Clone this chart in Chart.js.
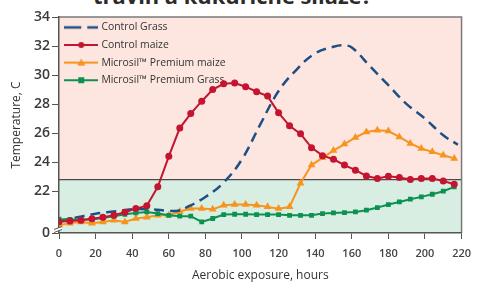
<!DOCTYPE html>
<html><head><meta charset="utf-8">
<script src="https://cdn.jsdelivr.net/npm/chart.js@4.4.1/dist/chart.umd.min.js"></script>
<style>
html,body{margin:0;padding:0;background:#fff;overflow:hidden;}
#wrap{position:relative;width:479px;height:282px;overflow:hidden;}
#title{position:absolute;left:0;top:-14px;width:465px;text-align:center;font-family:"Open Sans";font-weight:bold;font-size:18px;color:#2b2b2b;white-space:nowrap;line-height:20px;}
canvas{position:absolute;left:0;top:0;}
</style></head><body>
<div id="wrap"><div id="title">travin a kukuřičné siláže?</div><canvas id="c" width="479" height="282"></canvas></div>
<script>
// ---- data ----
const hours6 = [0,6,12,18,24,30,36,42,48,54,60,66,72,78,84,90,96,102,108,114,120,126,132,138,144,150,156,162,168,174,180,186,192,198,204,210,216];
const controlMaize = [19.9,19.95,20.0,20.1,20.2,20.35,20.55,20.8,21.0,22.3,24.4,26.35,27.35,28.2,29.0,29.4,29.45,29.2,28.85,28.55,27.4,26.5,25.95,25.0,24.45,24.2,23.8,23.45,23.05,22.87,23.03,22.94,22.8,22.87,22.87,22.7,22.48];
const microsilMaize = [19.65,19.8,19.88,19.8,19.88,20.0,19.88,20.12,20.2,20.34,20.34,20.6,20.8,20.8,20.75,21.03,21.08,21.08,21.03,20.92,20.8,20.92,22.55,23.8,24.3,24.8,25.25,25.7,26.08,26.2,26.14,25.74,25.29,24.94,24.71,24.48,24.26];
const microsilGrass = [20.07,20.05,20.05,20.05,20.16,20.28,20.41,20.5,20.57,20.46,20.34,20.28,20.28,19.88,20.12,20.39,20.41,20.41,20.39,20.39,20.39,20.34,20.34,20.34,20.46,20.5,20.53,20.57,20.69,20.87,21.08,21.26,21.45,21.61,21.79,22.0,22.3];
const grassHours = [0,10,20,30,40,50,60,65,70,80,90,100,110,120,130,140,150,155,160,170,180,190,200,210,218];
const controlGrass = [19.95,20.2,20.45,20.6,20.75,20.75,20.65,20.65,20.9,21.6,22.6,24.2,26.6,28.9,30.4,31.5,31.95,32.05,31.9,30.6,29.3,28.0,27.0,25.85,25.2];
const seriesNames = ['Control Grass','Control maize','Microsil\u2122 Premium maize','Microsil\u2122 Premium Grass'];
const xTicks = [0,20,40,60,80,100,120,140,160,180,200,220];
const yTicks = [22,24,26,28,30,32,34];
const yBreakValue = 19.12;   // where the broken axis shows "0"
const yBreakLabel = '0';
const thresholdValue = 22.8;

// fit title width
(function(){
  const t = document.getElementById('title');
  const cx = document.createElement('canvas').getContext('2d');
  cx.font = 'bold 18px "Open Sans"';
  const w = cx.measureText(t.textContent).width;
  t.style.fontSize = (18*279/w).toFixed(2)+'px';
})();

const colors = {blue:'#1d4f86', red:'#c4142f', orange:'#f7941d', green:'#0b9150'};

function legendImg(color, marker, dashed){
  const c = document.createElement('canvas'); c.width = 34; c.height = 10;
  const g = c.getContext('2d');
  g.strokeStyle = color; g.fillStyle = color; g.lineWidth = dashed ? 2.5 : 2;
  if (dashed) g.setLineDash([17,6]);
  g.beginPath(); g.moveTo(0,5); g.lineTo(34,5); g.stroke();
  g.setLineDash([]);
  if (marker==='circle'){ g.beginPath(); g.arc(17,5,3,0,Math.PI*2); g.fill(); }
  if (marker==='triangle'){ g.beginPath(); g.moveTo(17,1); g.lineTo(21,8); g.lineTo(13,8); g.closePath(); g.fill(); }
  if (marker==='rect'){ g.fillRect(14,2,6,6); }
  return c;
}
const legendImgs = [legendImg(colors.blue,null,true), legendImg(colors.red,'circle'), legendImg(colors.orange,'triangle'), legendImg(colors.green,'rect')];

const pts = (xs, ys) => xs.map((x,i)=>({x:x, y:ys[i]}));

const bgPlugin = {
  id:'bg',
  beforeDraw(chart){
    const {ctx, chartArea:{left,right,top,bottom}, scales:{y}} = chart;
    const yT = y.getPixelForValue(thresholdValue);
    ctx.save();
    ctx.fillStyle = '#fde6df'; ctx.fillRect(left, top, right-left, yT-top);
    ctx.fillStyle = '#d9eee3'; ctx.fillRect(left, yT, right-left, bottom-yT);
    ctx.strokeStyle = '#4a4a4a'; ctx.lineWidth = 1.2;
    ctx.beginPath(); ctx.moveTo(left, yT); ctx.lineTo(right, yT); ctx.stroke();
    ctx.strokeStyle = '#7a7a7a'; ctx.lineWidth = 1.5;
    ctx.beginPath(); ctx.moveTo(left, top); ctx.lineTo(right, top); ctx.lineTo(right, bottom); ctx.stroke();
    ctx.restore();
  },
  afterDraw(chart){
    const {ctx, chartArea:{left,bottom}} = chart;
    ctx.save();
    ctx.strokeStyle = '#fff'; ctx.lineWidth = 2.5;
    ctx.beginPath(); ctx.moveTo(left-5, bottom-2); ctx.lineTo(left+3, bottom-5); ctx.stroke();
    ctx.strokeStyle = '#555'; ctx.lineWidth = 1;
    ctx.beginPath(); ctx.moveTo(left-5, bottom-0.5); ctx.lineTo(left+3, bottom-3.5); ctx.stroke();
    ctx.beginPath(); ctx.moveTo(left-5, bottom-3.5); ctx.lineTo(left+3, bottom-6.5); ctx.stroke();
    ctx.restore();
  },
  afterLayout(chart){
    const lg = chart.legend, ca = chart.chartArea;
    if (lg){
      const h = lg.height, w = lg.width;
      lg.left = ca.left; lg.top = ca.top - 2; lg.right = lg.left + w; lg.bottom = lg.top + h;
    }
  }
};

new Chart(document.getElementById('c'), {
  type:'line',
  data:{ datasets:[
    {label:seriesNames[0], data:pts(grassHours, controlGrass), borderColor:colors.blue, backgroundColor:colors.blue, borderWidth:2.5, borderDash:[10,6], pointRadius:0, tension:0.4, order:2},
    {label:seriesNames[1], data:pts(hours6, controlMaize), borderColor:colors.red, backgroundColor:colors.red, borderWidth:2, pointStyle:'circle', pointRadius:3.5, pointBorderWidth:0, order:0},
    {label:seriesNames[2], data:pts(hours6, microsilMaize), borderColor:colors.orange, backgroundColor:colors.orange, borderWidth:2, pointStyle:'triangle', pointRadius:4.5, pointBorderWidth:0, order:3},
    {label:seriesNames[3], data:pts(hours6, microsilGrass), borderColor:colors.green, backgroundColor:colors.green, borderWidth:2, pointStyle:'rect', pointRadius:3.4, pointBorderWidth:0, order:1}
  ]},
  options:{
    responsive:false, animation:false, devicePixelRatio:1,
    layout:{padding:{top:17,right:13,left:0,bottom:0}},
    plugins:{
      tooltip:{enabled:false},
      legend:{
        position:'chartArea', align:'start',
        labels:{
          usePointStyle:true, pointStyleWidth:30, padding:7.2,
          font:{family:'"Open Sans"', size:10.4}, color:'#333',
          generateLabels(chart){
            return chart.data.datasets.map((d,i)=>({text:d.label, pointStyle:legendImgs[i], fillStyle:d.borderColor, strokeStyle:d.borderColor, lineWidth:0, hidden:false, datasetIndex:i, fontColor:'#333'}));
          }
        }
      }
    },
    scales:{
      x:{
        type:'linear', min:0, max:220,
        afterBuildTicks(s){ s.ticks = xTicks.map(v=>({value:v})); },
        afterFit(s){ s.height = 49; },
        grid:{drawOnChartArea:false, drawTicks:true, tickLength:6, color:'#555', lineWidth:1},
        border:{color:'#555', width:1.5},
        ticks:{padding:8, color:'#444', font:{family:'"Open Sans"', size:11, weight:'600'}, maxRotation:0},
        title:{display:true, text:'Aerobic exposure, hours', color:'#333', font:{family:'"Open Sans"', size:12, lineHeight:1}, padding:{top:0,bottom:0}}
      },
      y:{
        type:'linear', min:yBreakValue, max:34,
        afterBuildTicks(s){ s.ticks = [{value:yBreakValue}].concat(yTicks.map(v=>({value:v}))); },
        afterFit(s){ s.width = 59; },
        grid:{drawOnChartArea:false, drawTicks:true, tickLength:7, color:'#555', lineWidth:1},
        border:{color:'#555', width:1.5},
        ticks:{padding:2, color:'#3a3a3a', font:{family:'"Open Sans"', size:14, weight:'600'},
          callback(v){ return Math.abs(v-yBreakValue)<1e-6 ? yBreakLabel : String(v); }},
        title:{display:true, text:'Temperature, C', color:'#333', font:{family:'"Open Sans"', size:12, lineHeight:1}, padding:{top:11,bottom:0}}
      }
    }
  },
  plugins:[bgPlugin]
});
</script>
</body></html>
